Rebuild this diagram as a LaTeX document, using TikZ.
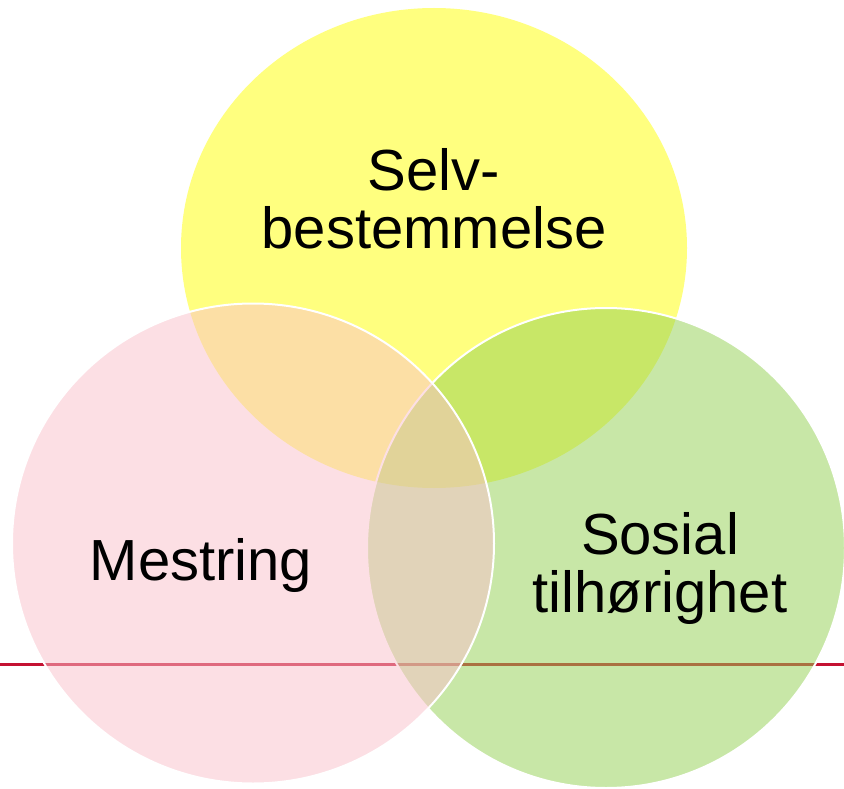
\documentclass[tikz,border=0pt]{standalone}
\usepackage{fontspec}
\setmainfont{Liberation Sans}
\definecolor{yel}{RGB}{255,255,0}
\definecolor{grn}{RGB}{146,208,80}
\definecolor{pnk}{RGB}{251,193,203}
\definecolor{rulecol}{RGB}{196,18,50}
\begin{document}
\begin{tikzpicture}[x=1pt,y=-1pt,
  blob/.style={fill opacity=0.5, draw=white, line width=2pt},
  lbl/.style={font=\fontsize{58}{58}\selectfont, align=center, text=black, inner sep=0pt, anchor=base}]
\path[fill=white, use as bounding box] (0,0) rectangle (844,789);
\coordinate (L) at (0,664);
\coordinate (R) at (844,664);
\draw[rulecol, line width=3pt] (L) -- (R);
\fill[yel, fill opacity=0.5] (434,248) ellipse [x radius=253pt, y radius=240pt];
\path[blob, fill=grn] (606,548) ellipse [x radius=239pt, y radius=240pt];
\path[blob, fill=pnk] (253,543.5) ellipse [x radius=241pt, y radius=240pt];
\node[lbl] (selv) at (434,248) {Selv-\\bestemmelse};
\node[lbl] (mestring) at (201,580) {Mestring};
\node[lbl] (sosial) at (660,612) {Sosial\\tilhørighet};
\end{tikzpicture}
\end{document}
